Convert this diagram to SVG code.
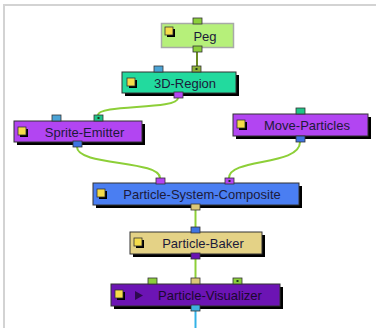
<svg xmlns="http://www.w3.org/2000/svg" width="376" height="328" viewBox="0 0 376 328">
<style>
.sh{fill:#000}
.bx{stroke:#333;stroke-width:1}
.lb{font-family:"Liberation Sans",Arial,sans-serif;font-size:13px;fill:#1c1a3a;text-anchor:middle}
.ic{fill:#f5dc4a;stroke:#333;stroke-width:0.8}
.pt{stroke:#333;stroke-width:0.8}
.dot{fill:#1a3a1a}
.wire{fill:none;stroke:#8dcf38;stroke-width:2}
</style>
<rect width="376" height="328" fill="#fff"/>
<rect x="3" y="4" width="373" height="2" fill="#d3d3d3"/>
<rect x="3" y="4" width="2" height="324" fill="#d3d3d3"/>

<g id="connectors">
<line x1="197" y1="52" x2="197" y2="66" stroke="#6b8a22" stroke-width="2"/>
<path class="wire" d="M178,98 C178,110 98,104 98,115"/>
<path class="wire" d="M77,147 C77,166 160,160 160,178"/>
<path class="wire" d="M300,142 C300,166 229,158 229,178"/>
<line class="wire" x1="195.5" y1="210" x2="195.5" y2="227"/>
<line class="wire" x1="195.5" y1="259" x2="195.5" y2="278"/>
<line x1="195.5" y1="311" x2="195.5" y2="328" stroke="#33b2e6" stroke-width="2"/>
</g>

<g id="peg">
<rect x="161.5" y="23.5" width="72" height="24" fill="#b6f07a" stroke="#a8aaa8" stroke-width="1.5"/>
<rect x="167" y="29" width="8" height="8" class="sh"/>
<rect x="165" y="27" width="8" height="8" class="ic"/>
<text x="205" y="41" class="lb">Peg</text>
<rect x="193" y="18" width="9" height="6" fill="#8ccf3c" class="pt"/>
<rect x="193" y="46" width="9" height="6" fill="#8ccf3c" class="pt"/>
</g>

<g id="region3d">
<rect x="125" y="75" width="114" height="21" class="sh"/>
<rect x="122" y="72" width="114" height="21" fill="#22da9e" class="bx"/>
<rect x="129" y="80" width="8" height="8" class="sh"/>
<rect x="127" y="78" width="8" height="8" class="ic"/>
<text x="185" y="88" class="lb">3D-Region</text>
<rect x="154" y="66" width="9" height="6" fill="#4ba3d6" class="pt"/>
<rect x="192" y="66" width="9" height="6" fill="#8fb23a" class="pt"/>
<rect x="195.5" y="68" width="2" height="2" class="dot"/>
<rect x="174" y="92" width="9" height="6" fill="#b444f2" class="pt"/>
</g>

<g id="sprite-emitter">
<rect x="17" y="124" width="128" height="21" class="sh"/>
<rect x="14" y="121" width="128" height="21" fill="#b245f2" class="bx"/>
<rect x="20" y="129" width="8" height="8" class="sh"/>
<rect x="18" y="127" width="8" height="8" class="ic"/>
<text x="84.5" y="137" class="lb">Sprite-Emitter</text>
<rect x="52" y="115" width="9" height="6" fill="#4ba3d6" class="pt"/>
<rect x="94" y="115" width="9" height="6" fill="#1fc488" class="pt"/>
<rect x="97.5" y="117" width="2" height="2" class="dot"/>
<rect x="73" y="141" width="9" height="6" fill="#3f74e2" class="pt"/>
</g>

<g id="move-particles">
<rect x="236" y="117" width="135" height="22" class="sh"/>
<rect x="233" y="114" width="135" height="22" fill="#b245f2" class="bx"/>
<rect x="239" y="122" width="8" height="8" class="sh"/>
<rect x="237" y="120" width="8" height="8" class="ic"/>
<text x="307" y="130" class="lb">Move-Particles</text>
<rect x="296" y="108" width="9" height="6" fill="#1fc488" class="pt"/>
<rect x="296" y="136" width="9" height="6" fill="#3f74e2" class="pt"/>
</g>

<g id="particle-system-composite">
<rect x="96" y="186" width="206" height="22" class="sh"/>
<rect x="93" y="183" width="206" height="22" fill="#4a7ef2" class="bx"/>
<rect x="99" y="191" width="8" height="8" class="sh"/>
<rect x="97" y="189" width="8" height="8" class="ic"/>
<text x="202" y="199" class="lb">Particle-System-Composite</text>
<rect x="156" y="178" width="9" height="6" fill="#b444f2" class="pt"/>
<rect x="225" y="178" width="9" height="6" fill="#b444f2" class="pt"/>
<rect x="228.5" y="180" width="2" height="2" class="dot"/>
<rect x="191" y="204" width="9" height="6" fill="#dcc878" class="pt"/>
</g>

<g id="particle-baker">
<rect x="133" y="235" width="132" height="22" class="sh"/>
<rect x="130" y="232" width="132" height="22" fill="#e4d286" class="bx"/>
<rect x="136" y="240" width="8" height="8" class="sh"/>
<rect x="134" y="238" width="8" height="8" class="ic"/>
<text x="203" y="248" class="lb">Particle-Baker</text>
<rect x="191" y="227" width="9" height="6" fill="#3f74e2" class="pt"/>
<rect x="191" y="253" width="9" height="6" fill="#6a12b2" class="pt"/>
</g>

<g id="particle-visualizer">
<rect x="114" y="287" width="169" height="22" class="sh"/>
<rect x="111" y="284" width="169" height="22" fill="#6c14b4" class="bx"/>
<rect x="117" y="292" width="8" height="8" class="sh"/>
<rect x="115" y="290" width="8" height="8" class="ic"/>
<path d="M135,291 L143,295.5 L135,300 Z" fill="#2e0a4e"/>
<text x="210" y="300" class="lb" fill="#1a0830" style="fill:#1a0830">Particle-Visualizer</text>
<rect x="148" y="278" width="9" height="6" fill="#8ccf3c" class="pt"/>
<rect x="191" y="278" width="9" height="6" fill="#dcc878" class="pt"/>
<rect x="233" y="278" width="9" height="6" fill="#8ccf3c" class="pt"/>
<rect x="236.5" y="280" width="2" height="2" class="dot"/>
<rect x="191" y="305" width="9" height="6" fill="#3fb0e0" class="pt"/>
</g>
</svg>
